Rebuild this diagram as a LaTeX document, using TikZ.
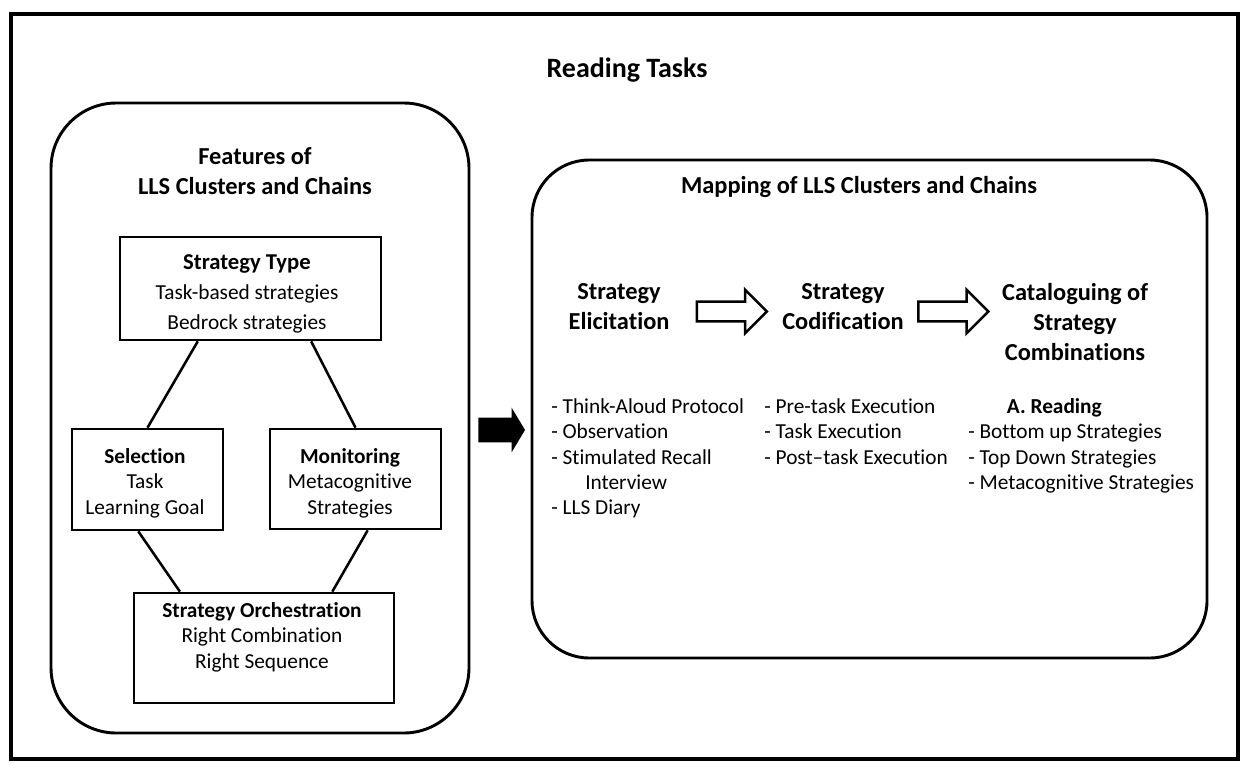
\documentclass[tikz,border=0pt]{standalone}
\usepackage{fontspec}
\setmainfont{Carlito}[Ligatures=NoCommon]
\usetikzlibrary{positioning,calc,fit,shapes.arrows}

\begin{document}
\begin{tikzpicture}[x=0.75pt, y=-0.75pt,
    frameBox/.style={draw, line width=3.4pt, inner sep=0pt},
    roundBox/.style={draw, line width=2.2pt, inner sep=0pt},
    plainBox/.style={draw, line width=2pt, inner sep=0pt},
    linkLine/.style={line width=1.9pt},
    titleText/.style={font=\fontsize{21}{25}\selectfont\bfseries, inner sep=0pt},
    headText/.style={font=\fontsize{18.3}{22.5}\selectfont\bfseries, align=center, inner sep=0pt},
    bodyText/.style={font=\fontsize{16}{19.1}\selectfont, inner sep=0pt},
    hollowArrow/.style={single arrow, draw, line width=1.9pt, inner xsep=0pt, inner ysep=6.4pt,
        text height=0pt, text depth=0pt, minimum width=0pt, minimum height=52.5pt,
        single arrow head extend=9pt},
    solidArrow/.style={single arrow, fill=black, inner xsep=0pt, inner ysep=9pt,
        text height=0pt, text depth=0pt, minimum width=0pt, minimum height=35pt,
        single arrow head extend=7.5pt, single arrow tip angle=118}
]
    \useasboundingbox (0,0) rectangle (1244,764);

    % outer frame and title
    \node[frameBox, fit={(11,14) (1238,759)}] (frame) {};
    \node[titleText] (title) at (627,70) {Reading Tasks};

    % left panel: features
    \node[roundBox, rounded corners=49pt, fit={(51,103) (469,733)}] (featBox) {};
    \node[headText, anchor=north] (featTitle) at (255,147) {Features of\\LLS Clusters and Chains};

    \node[plainBox, fit={(120,237) (381,340)}] (sType) {};
    \node[bodyText, align=center, anchor=north, font=\fontsize{16}{22.5}\selectfont] (sTypeText) at (247,254)
        {\textbf{\fontsize{17}{20}\selectfont Strategy Type}\\Task-based strategies\\Bedrock strategies};

    \node[plainBox, fit={(72,429) (223,530)}] (sel) {};
    \node[bodyText, align=center, anchor=north] (selText) at (145,448)
        {\textbf{Selection}\\Task\\Learning Goal};

    \node[plainBox, fit={(270,429) (441,529)}] (mon) {};
    \node[bodyText, align=center, anchor=north] (monText) at (350,448)
        {\textbf{Monitoring}\\Metacognitive\\Strategies};

    \node[plainBox, fit={(134,593) (394,703)}] (orch) {};
    \node[bodyText, align=center, anchor=north] (orchText) at (262,602)
        {\textbf{Strategy Orchestration}\\Right Combination\\Right Sequence};

    \draw[linkLine] ($(sType.south west)!0.30!(sType.south east)$) -- (sel.north);
    \draw[linkLine] ($(sType.south west)!0.73!(sType.south east)$) -- (mon.north);
    \draw[linkLine] ($(sel.south west)!0.44!(sel.south east)$) -- ($(orch.north west)!0.18!(orch.north east)$);
    \draw[linkLine] ($(mon.south west)!0.57!(mon.south east)$) -- ($(orch.north west)!0.76!(orch.north east)$);

    % link between panels
    \node[solidArrow] (panelLink) at (498,430) {};

    % right panel: mapping
    \node[roundBox, rounded corners=43pt, fit={(532,160) (1207,658)}] (mapBox) {};
    \node[headText] (mapTitle) at (859,187) {Mapping of LLS Clusters and Chains};

    \node[headText, anchor=north] (elic) at (619,283) {Strategy\\Elicitation};
    \node[headText, anchor=north] (codif) at (843,283) {Strategy\\Codification};
    \node[headText, anchor=north] (catal) at (1075,283) {Cataloguing of\\Strategy\\Combinations};

    \node[hollowArrow] (stepA) at (727,311.5) {};
    \node[hollowArrow] (stepB) at (948.5,311.5) {};

    \node[bodyText, align=left, anchor=north west] (elicList) at (551,398)
        {- Think-Aloud Protocol\\- Observation\\- Stimulated Recall\\\hspace*{25.5pt}Interview\\- LLS Diary};
    \node[bodyText, align=left, anchor=north west] (codifList) at (764,398)
        {- Pre-task Execution\\- Task Execution\\- Post--task Execution};
    \node[bodyText, align=left, anchor=north west] (catalList) at (968,398)
        {\hspace*{29pt}\textbf{A. Reading}\\- Bottom up Strategies\\- Top Down Strategies\\- Metacognitive Strategies};
\end{tikzpicture}
\end{document}
